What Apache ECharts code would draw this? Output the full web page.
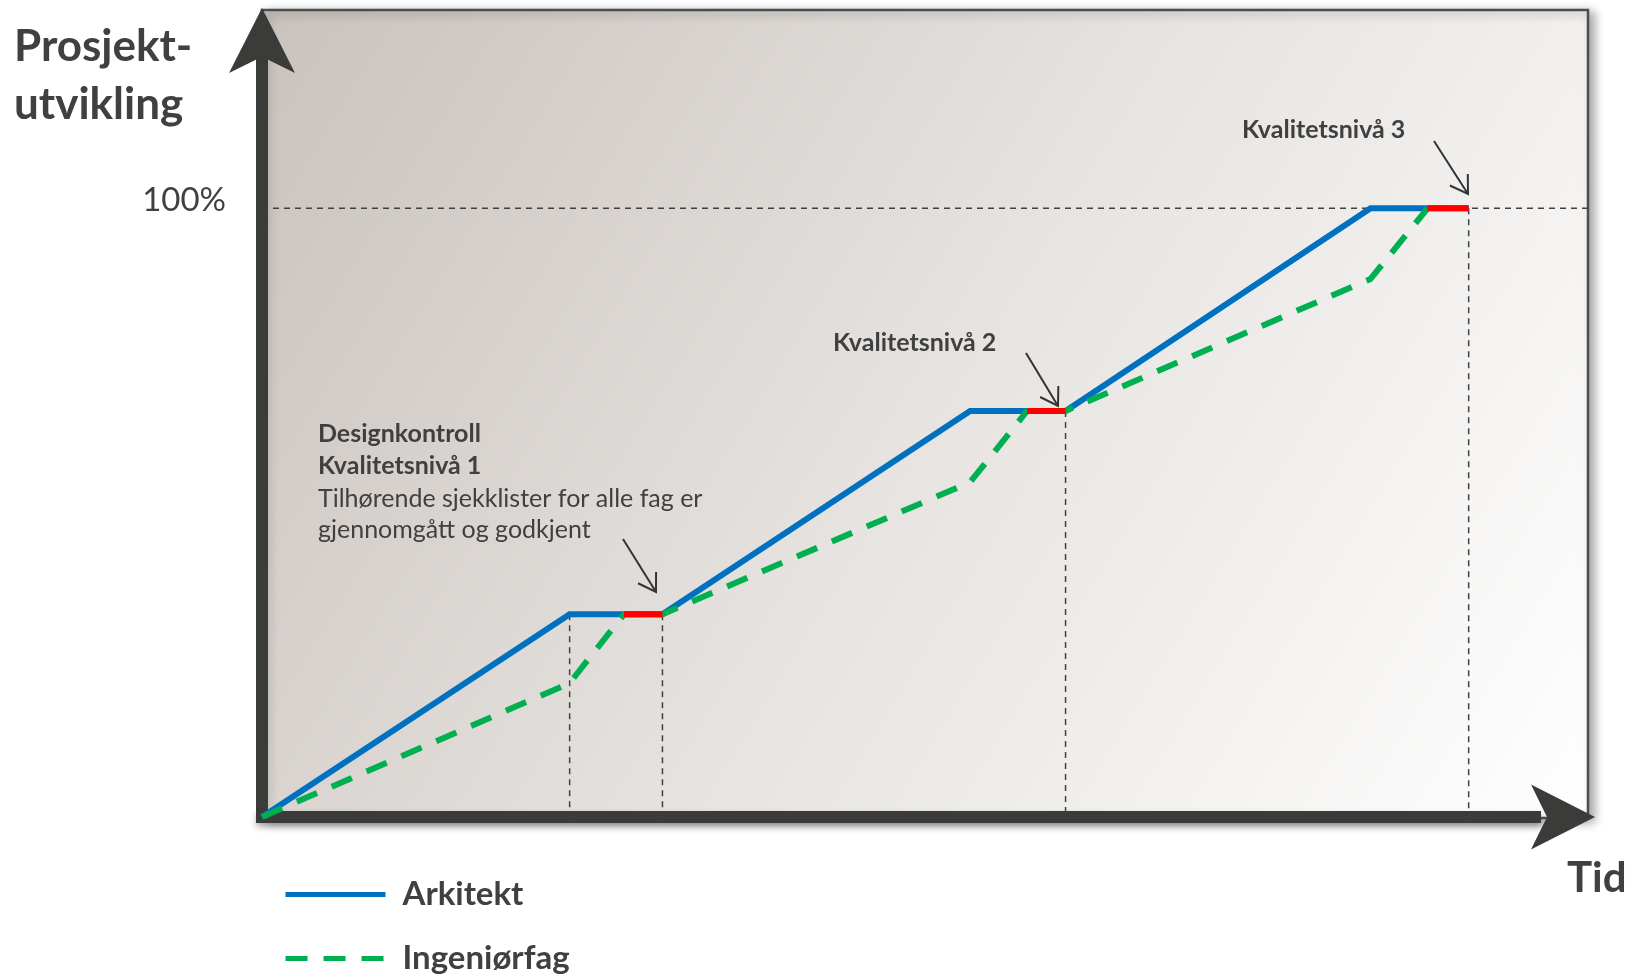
<!DOCTYPE html>
<html>
<head>
<meta charset="utf-8">
<title>Prosjektutvikling</title>
<script src="https://cdn.jsdelivr.net/npm/echarts@6/dist/echarts.min.js"></script>
<style>
html, body { margin: 0; padding: 0; background: #fff; }
#chart { width: 1636px; height: 976px; }
</style>
</head>
<body>
<div id="chart"></div>
<script>
// tid (x) og prosjektutvikling i % (y), lest av figuren
var arkitektX = [0, 23.2, 30.2, 53.4, 60.6, 83.6, 91.0];
var arkitektY = [0, 33.3, 33.3, 66.7, 66.7, 100, 100];
var ingeniorX = [0, 23.2, 27.3, 30.2, 53.4, 57.7, 60.6, 83.6, 87.9];
var ingeniorY = [0, 22, 33.3, 33.3, 55, 66.7, 66.7, 88.4, 100];
// designkontroll (rod strek)
var kontrollFra = [27.3, 57.7, 87.9];
var kontrollTil = [30.2, 60.6, 91.0];
var kontrollNiva = [33.3, 66.7, 100];
// stiplede loddlinjer
var loddX = [23.2, 30.2, 60.6, 91.0];
var loddY = [33.3, 33.3, 66.7, 100];
var maalNiva = 100;
var tidSlutt = 100;

var dom = document.getElementById('chart');
var myChart = echarts.init(dom);

function par(xs, ys) {
    return xs.map(function (x, i) { return [x, ys[i]]; });
}

var kontrollData = [];
kontrollFra.forEach(function (x, i) {
    kontrollData.push([x, kontrollNiva[i]], [kontrollTil[i], kontrollNiva[i]], ['-', '-']);
});
var loddData = [];
loddX.forEach(function (x, i) {
    loddData.push([x, loddY[i]], [x, 0], ['-', '-']);
});

var tekst = '#404040';
var font = 'Lato';
var akse = '#3b3b39';

function pil(x1, y1, x2, y2) {
    var a = Math.atan2(y2 - y1, x2 - x1), L = 20, s = 0.56;
    return [
        { type: 'line', z: 50, shape: { x1: x1, y1: y1, x2: x2, y2: y2 }, style: { stroke: '#333', lineWidth: 2 } },
        { type: 'polyline', z: 50, shape: { points: [
            [x2 - L * Math.cos(a - s), y2 - L * Math.sin(a - s)], [x2, y2],
            [x2 - L * Math.cos(a + s), y2 - L * Math.sin(a + s)]] },
          style: { stroke: '#333', lineWidth: 2, fill: null } }
    ];
}

function txt(x, y, s, f) {
    return { type: 'text', x: x, y: y, z: 50,
        style: { text: s, font: f, fill: tekst, verticalAlign: 'middle' } };
}

var graphics = [
    { type: 'rect', z: -10,
      shape: { x: 262, y: 10, width: 1326, height: 808 },
      style: {
          fill: { type: 'linear', x: 0, y: 0, x2: 1, y2: 1,
              colorStops: [{ offset: 0, color: '#c9c2bd' }, { offset: 0.5, color: '#e6e3e0' }, { offset: 1, color: '#ffffff' }] },
          stroke: '#4d4d4d', lineWidth: 2.5,
          shadowBlur: 10, shadowColor: 'rgba(0,0,0,0.35)', shadowOffsetX: 5, shadowOffsetY: 3
      } },
    txt(14, 47, 'Prosjekt-', 'bold 44px Lato'),
    txt(14, 105, 'utvikling', 'bold 44px Lato'),
    txt(1567, 878, 'Tid', 'bold 42px Lato'),
    txt(1242, 130, 'Kvalitetsnivå 3', 'bold 25px Lato'),
    txt(833, 343, 'Kvalitetsnivå 2', 'bold 25px Lato'),
    txt(318, 434, 'Designkontroll', 'bold 25px Lato'),
    txt(318, 466, 'Kvalitetsnivå 1', 'bold 25px Lato'),
    txt(318, 499, 'Tilhørende sjekklister for alle fag er', '25px Lato'),
    txt(318, 530, 'gjennomgått og godkjent', '25px Lato')
].concat(pil(623, 539, 656, 592), pil(1026, 353, 1058, 406), pil(1434, 141, 1468, 194));

var stiplet = { color: '#404040', width: 1.5, type: [6, 5] };

option = {
    backgroundColor: '#fff',
    animation: false,
    grid: [
        { left: 262, right: 48, top: 50, bottom: 159 },   // data
        { left: 262, right: 101, top: 50, bottom: 159 }   // tidsakse med pil
    ],
    legend: {
        data: ['Arkitekt', 'Ingeniørfag'],
        orient: 'vertical',
        left: 283,
        top: 878,
        padding: 0,
        itemWidth: 100,
        itemHeight: 30,
        itemGap: 31,
        itemStyle: { opacity: 0 },
        lineStyle: { width: 5 },
        textStyle: { fontFamily: font, fontWeight: 'bold', fontSize: 33, lineHeight: 30,
            color: tekst, padding: [0, 0, 0, 12] }
    },
    xAxis: [
        { type: 'value', gridIndex: 0, min: 0, max: tidSlutt,
          axisLine: { show: false }, axisLabel: { show: false }, axisTick: { show: false }, splitLine: { show: false } },
        { type: 'value', gridIndex: 1, min: 0, max: 1, offset: 2,
          axisLabel: { show: false }, axisTick: { show: false }, splitLine: { show: false },
          axisLine: {
              show: true, symbol: ['none', 'arrow'], symbolSize: [48.75, 64], symbolOffset: [0, 60],
              lineStyle: { color: akse, width: 12, cap: 'square',
                  shadowBlur: 6, shadowColor: 'rgba(0,0,0,0.3)', shadowOffsetY: 4 }
          } }
    ],
    yAxis: [
        { type: 'value', gridIndex: 0, min: 0, max: 126, interval: 100,
          axisTick: { show: false }, splitLine: { show: false },
          axisLabel: {
              formatter: function (v) { return v === maalNiva ? '{p|100%}' : ''; },
              margin: 36,
              rich: { p: { fontSize: 33, fontFamily: font, color: tekst, padding: [0, 0, 16, 0] } }
          },
          axisLine: {
              show: true, symbol: ['none', 'arrow'], symbolSize: [49.5, 65], symbolOffset: [0, 42],
              lineStyle: { color: akse, width: 12, cap: 'square' }
          } },
        { type: 'value', gridIndex: 1, min: 0, max: 1, show: false }
    ],
    graphic: graphics,
    series: [
        { name: '100%', type: 'line', symbol: 'none', silent: true,
          data: [[0, maalNiva], [tidSlutt, maalNiva]], lineStyle: stiplet },
        { name: 'lodd', type: 'line', symbol: 'none', silent: true,
          data: loddData, lineStyle: stiplet },
        { name: 'Arkitekt', type: 'line', symbol: 'none',
          data: par(arkitektX, arkitektY),
          itemStyle: { color: '#0070c0' },
          lineStyle: { color: '#0070c0', width: 6, join: 'miter' } },
        { name: 'Ingeniørfag', type: 'line', symbol: 'none',
          data: par(ingeniorX, ingeniorY),
          itemStyle: { color: '#00b050' },
          lineStyle: { color: '#00b050', width: 6, type: [22, 16] } },
        { name: 'Designkontroll', type: 'line', symbol: 'none',
          data: kontrollData,
          itemStyle: { color: '#ff0000' },
          lineStyle: { color: '#ff0000', width: 6 } }
    ]
};

if (option && typeof option === "object") {
    myChart.setOption(option, true);
}
window.onresize = function () {
    myChart.resize();
};
</script>
</body>
</html>
